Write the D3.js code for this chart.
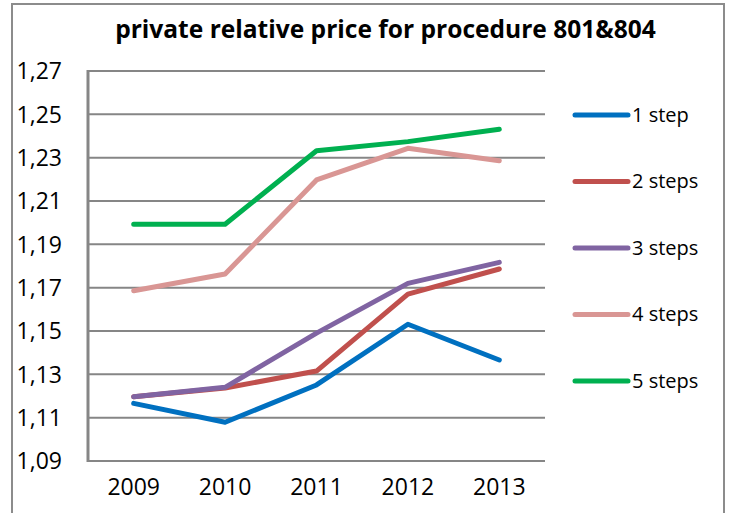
<!DOCTYPE html>
<html>
<head>
<meta charset="utf-8">
<script src="https://cdn.jsdelivr.net/npm/d3@7"></script>
<style>
  html, body { margin: 0; padding: 0; background: #fff; }
  svg { display: block; }
  text { font-family: "Open Sans", "Noto Sans", sans-serif; fill: #000; }
</style>
</head>
<body>
<svg id="chart" width="733" height="513"></svg>
<script>
const title = "private relative price for procedure 801&804";
const years = ["2009", "2010", "2011", "2012", "2013"];
const seriesNames = ["1 step", "2 steps", "3 steps", "4 steps", "5 steps"];
const seriesColors = ["#0070C0", "#C0504D", "#8064A2", "#D99694", "#00B050"];
const step1 = [1.1166, 1.1079, 1.1251, 1.1531, 1.1366];
const step2 = [1.1197, 1.1237, 1.1315, 1.1670, 1.1786];
const step3 = [1.1197, 1.1240, 1.1490, 1.1720, 1.1817];
const step4 = [1.1686, 1.1763, 1.2197, 1.2343, 1.2286];
const step5 = [1.1993, 1.1993, 1.2332, 1.2374, 1.2431];
const yTicks = [1.09, 1.11, 1.13, 1.15, 1.17, 1.19, 1.21, 1.23, 1.25, 1.27];
const yTickLabels = ["1,09", "1,11", "1,13", "1,15", "1,17", "1,19", "1,21", "1,23", "1,25", "1,27"];

const allSeries = [step1, step2, step3, step4, step5];

const svg = d3.select("#chart");

// outer frame
svg.append("rect")
  .attr("x", 12).attr("y", 4).attr("width", 712).attr("height", 520)
  .attr("fill", "none").attr("stroke", "#8c8c8c").attr("stroke-width", 2);

const plot = { left: 88, right: 545, top: 71, bottom: 461 };

const x = d3.scaleBand().domain(years).range([plot.left, plot.right]);
const y = d3.scaleLinear().domain([1.09, 1.27]).range([plot.bottom, plot.top]);

// gridlines
svg.append("g")
  .selectAll("line")
  .data(yTicks)
  .join("line")
  .attr("x1", plot.left).attr("x2", plot.right)
  .attr("y1", d => y(d)).attr("y2", d => y(d))
  .attr("stroke", "#868686").attr("stroke-width", 2);

// left axis line
svg.append("line")
  .attr("x1", plot.left).attr("x2", plot.left)
  .attr("y1", plot.top - 1).attr("y2", plot.bottom + 1)
  .attr("stroke", "#868686").attr("stroke-width", 3);

// y labels
const yAxis = d3.axisLeft(y).tickValues(yTicks)
  .tickFormat((d, i) => yTickLabels[i]).tickSize(0).tickPadding(0);
const gy = svg.append("g").attr("transform", "translate(62,0)").call(yAxis);
gy.select(".domain").remove();
gy.selectAll("text")
  .attr("font-family", "'Open Sans', 'Noto Sans', sans-serif")
  .attr("font-size", 23).attr("fill", "#000").attr("dy", "0.34em");

// x labels
const xAxis = d3.axisBottom(x).tickSize(0).tickPadding(0);
const gx = svg.append("g").attr("transform", "translate(0,487)").call(xAxis);
gx.select(".domain").remove();
gx.selectAll("text")
  .attr("font-family", "'Open Sans', 'Noto Sans', sans-serif")
  .attr("font-size", 23).attr("fill", "#000").attr("dy", "0.34em");

// lines
const line = d3.line()
  .x((d, i) => x(years[i]) + x.bandwidth() / 2)
  .y(d => y(d));

svg.append("g")
  .selectAll("path")
  .data(allSeries)
  .join("path")
  .attr("d", d => line(d))
  .attr("fill", "none")
  .attr("stroke", (d, i) => seriesColors[i])
  .attr("stroke-width", 5)
  .attr("stroke-linecap", "round")
  .attr("stroke-linejoin", "round");

// legend
const legendY = d3.scalePoint().domain(seriesNames).range([115, 381]);
const lg = svg.append("g").selectAll("g").data(seriesNames).join("g")
  .attr("transform", d => `translate(0,${legendY(d)})`);
lg.append("line")
  .attr("x1", 575).attr("x2", 628).attr("y1", 0).attr("y2", 0)
  .attr("stroke", (d, i) => seriesColors[i]).attr("stroke-width", 5)
  .attr("stroke-linecap", "round");
lg.append("text")
  .attr("x", 632).attr("y", 0).attr("dy", "0.34em")
  .attr("font-size", 20)
  .text(d => d);

// title
const t = svg.append("text")
  .attr("x", 385.5).attr("y", 38)
  .attr("text-anchor", "middle")
  .attr("font-weight", "bold")
  .attr("font-size", 22)
  .text(title);
const w = t.node().getComputedTextLength();
t.attr("font-size", 22 * 541 / w);
</script>
</body>
</html>
